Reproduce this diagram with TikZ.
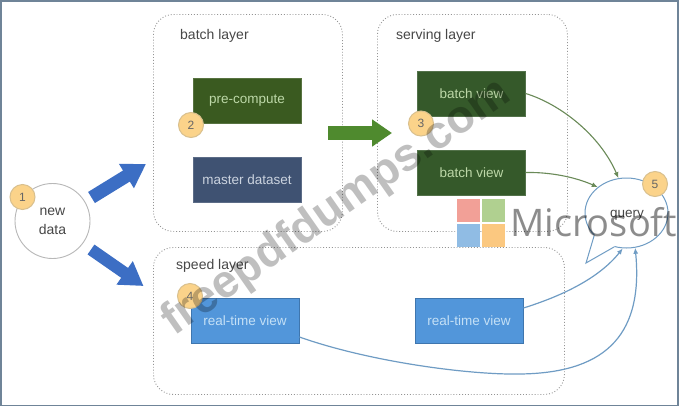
\documentclass[tikz,border=0pt]{standalone}
\usepackage{fontspec}
\setmainfont{Liberation Sans}
\newfontfamily\msfont{Open Sans}
\usetikzlibrary{arrows.meta,shapes.geometric}
\definecolor{framec}{HTML}{6F8498}
\definecolor{dgreen}{HTML}{3A5A20}
\definecolor{sgreen}{HTML}{35592A}
\definecolor{mblue}{HTML}{3F5272}
\definecolor{rtblue}{HTML}{5296DA}
\definecolor{rtedge}{HTML}{3F76AE}
\definecolor{badge}{HTML}{FBD38A}
\definecolor{badgeedge}{HTML}{D9C08E}
\definecolor{agreen}{HTML}{6A8A58}
\definecolor{ablue}{HTML}{6F9CC4}
\definecolor{barrow}{HTML}{3C6EC4}
\definecolor{garrow}{HTML}{4F8A2E}
\definecolor{lred}{HTML}{F2A097}
\definecolor{lgreen}{HTML}{B0D090}
\definecolor{lblue}{HTML}{90BCE4}
\definecolor{lorange}{HTML}{FBC880}
\definecolor{gtext}{HTML}{BDD8A8}
\definecolor{mtext}{HTML}{CBD3DF}
\definecolor{rtext}{HTML}{C4E0F6}
\tikzset{
  x=1pt,y=-1pt,
  every node/.style={font=\fontsize{14}{16}\selectfont,text=black!72},
  layerbox/.style={draw=black!42,dotted,line width=.9pt,rounded corners=20pt},
  proc/.style={minimum width=108pt,minimum height=45pt,inner sep=0pt,font=\fontsize{13.5}{16}\selectfont},
  greenbox/.style={proc,fill=#1,draw=#1!85!white,text=gtext},
  masterbox/.style={proc,fill=mblue,draw=mblue!85!white,text=mtext},
  rtbox/.style={proc,fill=rtblue,draw=rtedge,line width=.9pt,text=rtext},
  numbadge/.style={circle,fill=badge,draw=badgeedge,line width=1pt,minimum size=25pt,inner sep=0pt,font=\fontsize{12}{14}\selectfont,text=black!60},
  blockblue/.style={draw=barrow,line width=#1,-{Triangle[length=23pt,width=27pt]}},
  blockgreen/.style={draw=garrow,line width=14pt,-{Triangle[length=20pt,width=26pt]}},
  feedg/.style={draw=agreen,line width=1.1pt,-{Latex[length=6pt,width=5pt]}},
  feedb/.style={draw=ablue,line width=1.2pt,-{Latex[length=6pt,width=5pt]}},
  logosq/.style={minimum width=23pt,minimum height=23pt,inner sep=0pt,fill=#1},
}
\begin{document}
\begin{tikzpicture}
\useasboundingbox (0,0) rectangle (679,407);
\fill[white] (0,0) rectangle (679,407);
\draw[framec,line width=1.6pt] (.8,.8) rectangle (677.8,405.6);

% layers
\node[layerbox,minimum width=189pt,minimum height=217pt,anchor=north west] (batch) at (153,14) {};
\node[layerbox,minimum width=190pt,minimum height=217pt,anchor=north west] (serving) at (377,14) {};

% logo squares
\node[logosq=lred] (lr) at (468.5,210.5) {};
\node[logosq=lgreen] (lg) at (493.5,210.5) {};
\node[logosq=lblue] (lb) at (468.5,235.5) {};
\node[logosq=lorange] (lo) at (493.5,235.5) {};

\node[layerbox,minimum width=411pt,minimum height=147pt,anchor=north west] (speed) at (153,247) {};

\node[anchor=west,inner sep=0pt] (tb) at (180,36) {batch layer};
\node[anchor=west,inner sep=0pt] (ts) at (396,36) {serving layer};
\node[anchor=west,inner sep=0pt] (tp) at (176,266) {speed layer};

% boxes
\node[greenbox=dgreen] (pre) at (247,100.5) {pre-compute};
\node[masterbox] (master) at (247,179.5) {master dataset};
\node[greenbox=sgreen] (bv1) at (471.5,93.5) {batch view};
\node[greenbox=sgreen] (bv2) at (471.5,172.5) {batch view};
\node[rtbox] (rt1) at (245,320.5) {real-time view};
\node[rtbox] (rt2) at (469,320.5) {real-time view};

% new data
\node[circle,draw=black!28,line width=.9pt,minimum size=75pt,inner sep=0pt,align=center,font=\fontsize{14}{19}\selectfont] (nd) at (52.5,221) {new\\data};

% query bubble
\node[ellipse,draw=ablue,line width=1pt,fill=white,minimum width=83pt,minimum height=70pt,inner sep=0pt] (query) at (626.5,213) {};
\coordinate (tailtip) at (586,263);
\fill[white] (query.215) -- (tailtip) -- (query.250) -- (query.center) -- cycle;
\draw[ablue,line width=1pt] (query.215) -- (tailtip) -- (query.250);
\node[font=\fontsize{13.5}{16}\selectfont] (qt) at (627,215) {query};

% big arrows
\coordinate (a1s) at (91.5,197.5);
\coordinate (a1e) at (146,164);
\coordinate (a2s) at (91,249.5);
\coordinate (a2e) at (143.5,286);
\coordinate (a3s) at (328,133);
\coordinate (a3e) at (392,133);
\draw[blockblue=13pt] (a1s) -- (a1e);
\draw[blockblue=12pt] (a2s) -- (a2e);
\draw[blockgreen] (a3s) -- (a3e);

% connectors
\draw[feedg] (bv1.east) .. controls (560,104) and (600,135) .. (query.103);
\draw[feedg] (bv2.east) .. controls (550,172) and (575,177) .. (query.138);
\draw[feedb] ([yshift=12.5pt]rt2.east) .. controls (565,295) and (600,277) .. (query.264);
\draw[feedb] ([yshift=-16.5pt]rt1.east) .. controls (370,362) and (470,375) .. (520,374)
  .. controls (600,373) and (644,340) .. (query.284);

% badges
\node[numbadge] (n1) at (22.5,197) {1};
\node[numbadge] (n2) at (191,125) {2};
\node[numbadge] (n3) at (421,123.5) {3};
\node[numbadge] (n4) at (190,296) {4};
\node[numbadge] (n5) at (655,184) {5};

% overlays
\node[font=\msfont\fontsize{38}{40}\selectfont,text=black,opacity=.45,anchor=base west,inner sep=0pt] (ms) at (510,236) {Microsoft};
\node[font=\bfseries\fontsize{46}{48}\selectfont,text=black,opacity=.25,rotate=35,inner sep=0pt] (wm) at (337,208) {freepdfdumps.com};
\end{tikzpicture}
\end{document}
